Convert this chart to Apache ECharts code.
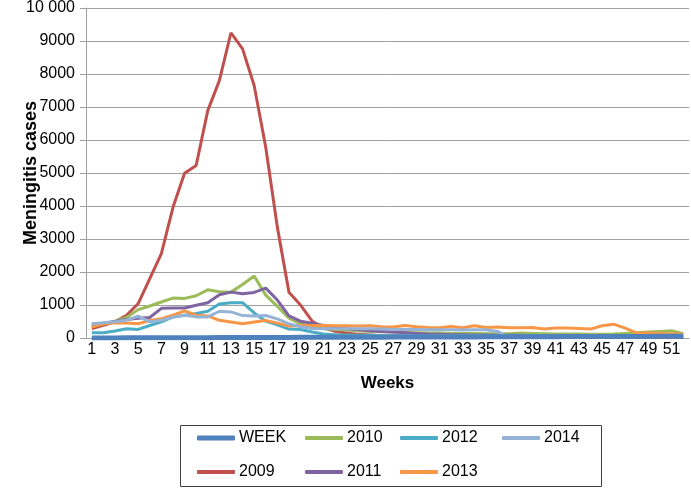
<!DOCTYPE html>
<html>
<head>
<meta charset="utf-8">
<script src="https://cdn.jsdelivr.net/npm/echarts@6/dist/echarts.min.js"></script>
<style>html,body{margin:0;padding:0;background:#fff}#c{width:691px;height:488px}</style>
</head>
<body>
<div id="c"></div>
<script>
var weeks = [];
for (var i = 1; i <= 52; i++) weeks.push(String(i));

var WEEK = [1,2,3,4,5,6,7,8,9,10,11,12,13,14,15,16,17,18,19,20,21,22,23,24,25,26,27,28,29,30,31,32,33,34,35,36,37,38,39,40,41,42,43,44,45,46,47,48,49,50,51,52];
var y2009 = [285,385,490,690,1040,1800,2560,3960,4990,5230,6890,7800,9250,8760,7650,5780,3360,1390,1000,510,300,200,150,110,90,70,60,50,50,40,40,40,30,30,30,30,20,20,20,20,20,20,20,20,20,20,20,20,20,20,20,20];
var y2010 = [350,420,500,620,860,970,1090,1210,1200,1280,1460,1400,1390,1620,1880,1300,960,600,430,340,290,260,240,220,200,190,180,170,160,150,150,140,140,140,130,130,130,150,140,130,120,120,120,110,110,120,140,160,180,200,220,130];
var y2011 = [420,450,500,560,600,620,900,910,910,990,1070,1310,1390,1340,1380,1510,1150,670,510,450,380,330,280,250,220,200,180,160,140,120,110,100,100,90,90,80,80,80,70,70,70,70,70,70,60,60,60,60,60,60,60,60];
var y2012 = [160,160,210,280,260,380,490,640,690,740,810,1030,1070,1070,760,510,400,270,260,180,120,100,90,80,80,70,70,70,70,70,70,70,70,70,70,70,70,70,70,70,70,70,70,70,70,70,70,70,70,70,70,70];
var y2013 = [330,430,465,455,430,530,585,690,820,690,670,535,485,435,485,530,450,360,380,380,380,370,370,360,370,340,330,380,340,320,310,350,310,370,320,330,310,310,320,270,300,300,290,270,370,420,300,150,150,140,130,110];
var y2014 = [430,460,490,540,660,490,540,630,690,640,640,810,790,680,670,680,580,430,340,290,280,280,280,280,280,270,260,260,260,250,250,250,240,250,250,200,0,null,null,null,null,null,null,null,null,null,null,null,null,null,null,null];

var yTicks = ['0','1000','2000','3000','4000','5000','6000','7000','8000','9000','10 000'];

var names = ['WEEK','2009','2010','2011','2012','2013','2014'];
var colors = ['#4F81BD','#C0504D','#9BBB59','#8064A2','#4BACC6','#F79646','#95B3D7'];
var datas = [WEEK,y2009,y2010,y2011,y2012,y2013,y2014];
var widths = [5,3,3,3,3,3,3];

var font = 'Liberation Sans';
var series = names.map(function(n, i){
  return {
    name: n, type: 'line', data: datas[i], showSymbol: false, symbol: 'none',
    lineStyle: {color: colors[i], width: widths[i]},
    itemStyle: {color: colors[i]},
    z: i === 0 ? 10 : 2 + i,
    animation: false
  };
});

var legendPos = [
  ['WEEK',197,430],['2010',305,430],['2012',400,430],['2014',502,430],
  ['2009',197,464],['2011',305,464],['2013',400,464]
];
var legends = legendPos.map(function(p){
  return {
    data: [p[0]], left: p[1], top: p[2], itemWidth: 38, itemHeight: p[0]==='WEEK'?5:4,
    icon: 'roundRect', itemGap: 4, padding: 0,
    textStyle: {fontFamily: font, fontSize: 16, color: '#000', padding:[0,0,0,-1]}
  };
});

var chart = echarts.init(document.getElementById('c'), null, {renderer: 'canvas'});
chart.setOption({
  animation: false,
  backgroundColor: '#fff',
  color: colors,
  grid: {left: 86, right: 2, top: 8, bottom: 150, containLabel: false, outerBoundsMode: 'none'},
  legend: legends,
  graphic: [{type: 'rect', shape: {x: 180.5, y: 425.5, width: 421, height: 61}, style: {fill: 'none', stroke: '#404040', lineWidth: 1}, silent: true}],
  xAxis: {
    type: 'category', data: weeks, boundaryGap: true,
    name: 'Weeks', nameLocation: 'middle', nameGap: 37, nameMoveOverlap: false,
    nameTextStyle: {fontFamily: font, fontSize: 17, fontWeight: 'bold', color: '#000'},
    axisLine: {lineStyle: {color: '#a0a0a0', width: 1}},
    axisTick: {show: false},
    axisLabel: {interval: 1, fontFamily: font, fontSize: 16, color: '#000', margin: 4}
  },
  yAxis: {
    type: 'value', min: 0, max: 10000, interval: 1000,
    name: 'Meningitis cases', nameLocation: 'middle', nameGap: 46, nameRotate: 90, nameMoveOverlap: false,
    nameTextStyle: {fontFamily: font, fontSize: 18, fontWeight: 'bold', color: '#000'},
    axisLine: {show: true, lineStyle: {color: '#a0a0a0', width: 1}},
    axisTick: {show: true, length: 6, lineStyle: {color: '#a0a0a0'}},
    splitLine: {lineStyle: {color: '#a0a0a0', width: 1}},
    axisLabel: {fontFamily: font, fontSize: 16, color: '#000', margin: 11,
      formatter: function(v){ return yTicks[Math.round(v/1000)]; }}
  },
  series: series
});
</script>
</body>
</html>
